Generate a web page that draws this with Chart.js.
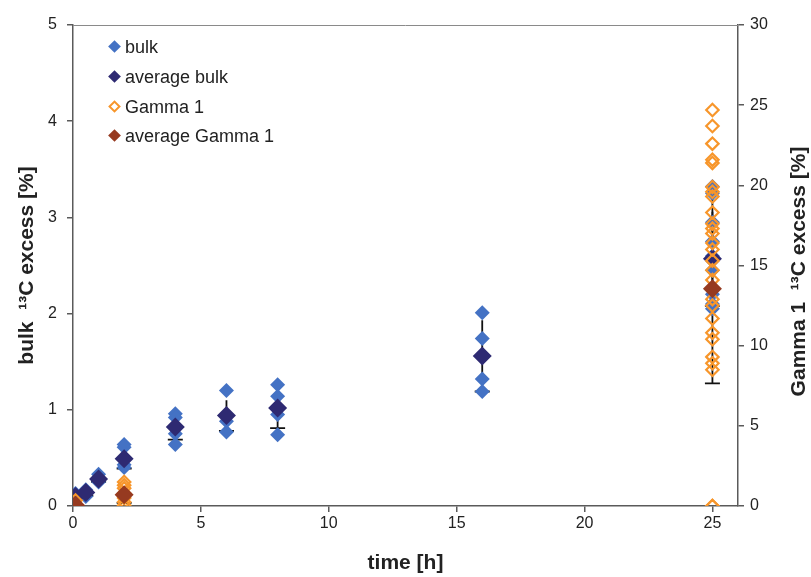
<!DOCTYPE html>
<html><head><meta charset="utf-8">
<script src="https://cdn.jsdelivr.net/npm/chart.js@4.4.0/dist/chart.umd.min.js"></script>
<style>
body{margin:0;background:#fff;}
#wrap{position:relative;width:811px;height:577px;}
#legend{position:absolute;left:0;top:0;font-family:"Liberation Sans",Arial,sans-serif;font-size:18px;color:#222;}
.row{position:absolute;left:107px;height:20px;line-height:20px;white-space:nowrap;}
.mk{position:absolute;left:3px;top:5px;width:9px;height:9px;transform:rotate(45deg);box-sizing:border-box;}
.tx{position:absolute;left:18px;top:0;}
</style></head><body>
<div id="wrap"><canvas id="c" width="811" height="577"></canvas><div id="legend"></div></div>
<script>
// ---- data ----
const bulkTimes = [0.1, 0.5, 1, 2, 4, 6, 8, 16, 25];
const bulkValues = [
  [0.13, 0.09, 0.07],
  [0.17, 0.13, 0.10],
  [0.33, 0.29, 0.25],
  [0.64, 0.61, 0.43, 0.40],
  [0.96, 0.92, 0.75, 0.64],
  [1.20, 0.88, 0.77],
  [1.26, 1.14, 0.95, 0.74],
  [2.01, 1.74, 1.32, 1.19],
  [3.32, 3.25, 2.95, 2.75, 2.60, 2.45, 2.20, 2.10, 2.05]
];
const bulkAverage = [0.10, 0.14, 0.28, 0.49, 0.82, 0.94, 1.02, 1.56, 2.57];
const bulkSD = [0.03, 0.035, 0.03, 0.10, 0.13, 0.16, 0.21, 0.37, 0.49];

const gammaTimes = [0.1, 2, 25];
const gammaValues = [
  [0.35, 0.05],
  [1.5, 1.3, 1.1, 0.8, 0.5, 0.25, 0.05],
  [24.7, 23.7, 22.6, 21.6, 21.4, 19.9, 19.6, 19.3, 18.3, 17.6, 17.3, 17.0, 16.4, 16.0,
   15.3, 14.7, 14.1, 13.6, 12.9, 12.5, 11.7, 10.8, 10.4, 9.3, 8.9, 8.5, 0, 0]
];
const gammaAverage = [0.05, 0.70, 13.55];
const gammaSD = [0.15, 0.50, 5.9];

const xTicks = [0, 5, 10, 15, 20, 25];
const seriesNames = ['bulk', 'average bulk', 'Gamma 1', 'average Gamma 1'];
const seriesColors = ['#4472C4', '#2E2A72', '#F7962B', '#963A20'];

// ---- build datasets ----
const pts = (times, groups) => times.flatMap((t, i) => groups[i].map(v => ({x: t, y: v})));
const avgPts = (times, avgs) => times.map((t, i) => ({x: t, y: avgs[i]}));

const errorBars = {
  id: 'errorBars',
  beforeDatasetsDraw(chart) {
    const ctx = chart.ctx, sx = chart.scales.x, a = chart.chartArea;
    const draw = (times, avgs, sds, sy) => {
      times.forEach((t, i) => {
        const px = sx.getPixelForValue(t);
        const lo = sy.getPixelForValue(avgs[i] - sds[i]);
        const hi = sy.getPixelForValue(avgs[i] + sds[i]);
        ctx.beginPath();
        ctx.moveTo(px, lo); ctx.lineTo(px, hi);
        ctx.moveTo(px - 7.5, lo); ctx.lineTo(px + 7.5, lo);
        ctx.stroke();
      });
    };
    ctx.save();
    ctx.beginPath(); ctx.rect(a.left, a.top, a.right - a.left, a.bottom - a.top); ctx.clip();
    ctx.strokeStyle = '#111'; ctx.lineWidth = 1.8;
    draw(bulkTimes, bulkAverage, bulkSD, chart.scales.y);
    draw(gammaTimes, gammaAverage, gammaSD, chart.scales.y2);
    ctx.restore();
  },
  afterDraw(chart) {
    const ctx = chart.ctx, a = chart.chartArea;
    ctx.save();
    ctx.strokeStyle = '#8a8a8a'; ctx.lineWidth = 1;
    ctx.beginPath(); ctx.moveTo(a.left, a.top + 0.5); ctx.lineTo(a.right, a.top + 0.5); ctx.stroke();
    ctx.translate(799, (a.top + a.bottom) / 2 + 6);
    ctx.rotate(-Math.PI / 2);
    ctx.fillStyle = '#222';
    ctx.font = 'bold 21px "Liberation Sans", Arial, sans-serif';
    ctx.textAlign = 'center'; ctx.textBaseline = 'middle';
    ctx.fillText('Gamma 1  \u00B9\u00B3C excess [%]', 0, 0);
    ctx.restore();
  }
};

const tickFont = {family: '"Liberation Sans", Arial, sans-serif', size: 16};
const titleFont = {family: '"Liberation Sans", Arial, sans-serif', size: 21, weight: 'bold'};
const axisGrid = {display: true, drawOnChartArea: false, drawTicks: true, tickLength: 6, color: '#5a5a5a', lineWidth: 1.5};

new Chart(document.getElementById('c'), {
  type: 'scatter',
  data: {
    datasets: [
      {label: seriesNames[0], data: pts(bulkTimes, bulkValues), yAxisID: 'y', order: 4,
       pointStyle: 'rectRot', pointRadius: 7.5, pointBackgroundColor: seriesColors[0], pointBorderWidth: 0,
       backgroundColor: seriesColors[0], borderColor: seriesColors[0]},
      {label: seriesNames[1], data: avgPts(bulkTimes, bulkAverage), yAxisID: 'y', order: 3,
       pointStyle: 'rectRot', pointRadius: 9.5, pointBackgroundColor: seriesColors[1], pointBorderWidth: 0,
       backgroundColor: seriesColors[1], borderColor: seriesColors[1]},
      {label: seriesNames[2], data: pts(gammaTimes, gammaValues), yAxisID: 'y2', order: 2,
       pointStyle: 'rectRot', pointRadius: 6.2, pointBackgroundColor: 'rgba(255,255,255,0)',
       pointBorderColor: seriesColors[2], pointBorderWidth: 2.2,
       backgroundColor: 'rgba(255,255,255,0)', borderColor: seriesColors[2]},
      {label: seriesNames[3], data: avgPts(gammaTimes, gammaAverage), yAxisID: 'y2', order: 1,
       pointStyle: 'rectRot', pointRadius: 9.5, pointBackgroundColor: seriesColors[3], pointBorderWidth: 0,
       backgroundColor: seriesColors[3], borderColor: seriesColors[3]}
    ]
  },
  options: {
    responsive: false,
    devicePixelRatio: 1,
    animation: false,
    events: [],
    layout: {padding: {top: 25, left: 0, right: 0, bottom: 0}},
    plugins: {legend: {display: false}, tooltip: {enabled: false}},
    scales: {
      x: {
        type: 'linear', min: 0, max: 26,
        afterFit: s => { s.height = 71; },
        afterBuildTicks: s => { s.ticks = xTicks.map(v => ({value: v})); },
        ticks: {font: tickFont, color: '#222', padding: 2, maxRotation: 0, autoSkip: false},
        grid: axisGrid,
        border: {display: true, color: '#5a5a5a', width: 1.5},
        title: {display: true, text: 'time [h]', font: titleFont, color: '#222', padding: {top: 0, bottom: 1}}
      },
      y: {
        type: 'linear', position: 'left', min: 0, max: 5,
        afterFit: s => { s.width = 73; },
        ticks: {stepSize: 1, font: tickFont, color: '#222', padding: 10},
        grid: axisGrid,
        border: {display: true, color: '#5a5a5a', width: 1.5},
        title: {display: true, text: 'bulk  \u00B9\u00B3C excess [%]', font: titleFont, color: '#222', padding: {top: 15, bottom: 0}}
      },
      y2: {
        type: 'linear', position: 'right', min: 0, max: 30,
        afterFit: s => { s.width = 73; },
        ticks: {stepSize: 5, font: tickFont, color: '#222', padding: 6},
        grid: axisGrid,
        border: {display: true, color: '#5a5a5a', width: 1.5},
        title: {display: false}
      }
    }
  },
  plugins: [errorBars]
});

// ---- HTML legend inside the plot area ----
const legendRows = [47, 77, 106.5, 136];
const legend = document.getElementById('legend');
seriesNames.forEach((name, i) => {
  const row = document.createElement('div');
  row.className = 'row';
  row.style.top = (legendRows[i] - 10) + 'px';
  const mk = document.createElement('span');
  mk.className = 'mk';
  if (i === 2) { mk.style.border = '2px solid ' + seriesColors[i]; mk.style.background = '#fff'; }
  else { mk.style.background = seriesColors[i]; }
  const tx = document.createElement('span');
  tx.className = 'tx';
  tx.textContent = name;
  row.appendChild(mk); row.appendChild(tx);
  legend.appendChild(row);
});
</script>
</body></html>
